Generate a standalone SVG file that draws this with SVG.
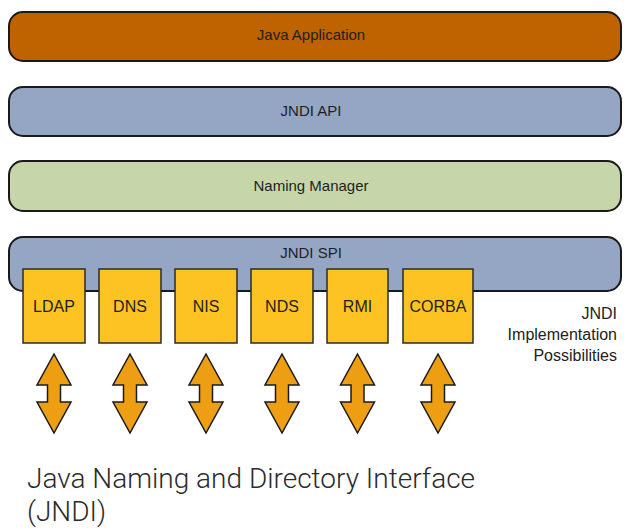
<svg xmlns="http://www.w3.org/2000/svg" xmlns:xlink="http://www.w3.org/1999/xlink" width="624" height="529" viewBox="0 0 624 529">
<style>
.bar{stroke:#1a1a1a;stroke-width:2}
.lbl{font-family:"Liberation Sans",Arial,sans-serif;font-size:15px;fill:#1e1e1e;text-anchor:middle}
.blbl{font-family:"Liberation Sans",Arial,sans-serif;font-size:16px;fill:#1e1e1e;text-anchor:middle}
.box{fill:#FDC322;stroke:#2a2a2a;stroke-width:1.5}
.side{font-family:"Liberation Sans",Arial,sans-serif;font-size:16px;fill:#222;text-anchor:end}
.cap{font-family:Roboto,"Liberation Sans",sans-serif;font-weight:300;font-size:28px;fill:#2b2b2b}
.arr{fill:#EE9E12;stroke:#1a1a1a;stroke-width:1.5;stroke-linejoin:miter}
</style>
<defs>
<path id="dbl" class="arr" d="M0,0 L17,31 L6.5,31 L6.5,48 L17,48 L0,79 L-17,48 L-6.5,48 L-6.5,31 L-17,31 Z"/>
</defs>
<g id="java-application">
<rect class="bar" x="9" y="12" width="612" height="49" rx="14" fill="#BF6200"/>
<text class="lbl" x="311" y="40">Java Application</text>
</g>
<g id="jndi-api">
<rect class="bar" x="9" y="87" width="612" height="49" rx="14" fill="#94A6C4"/>
<text class="lbl" x="311" y="116">JNDI API</text>
</g>
<g id="naming-manager">
<rect class="bar" x="9" y="161" width="612" height="50" rx="14" fill="#C6D6AA"/>
<text class="lbl" x="311" y="191">Naming Manager</text>
</g>
<g id="jndi-spi">
<rect class="bar" x="9" y="237" width="612" height="54" rx="14" fill="#94A6C4"/>
<text class="lbl" x="311" y="258">JNDI SPI</text>
</g>
<g id="ldap"><rect class="box" x="23" y="269" width="62" height="74"/><text class="blbl" x="54" y="312">LDAP</text></g>
<g id="dns"><rect class="box" x="99" y="269" width="62" height="74"/><text class="blbl" x="130" y="312">DNS</text></g>
<g id="nis"><rect class="box" x="175" y="269" width="62" height="74"/><text class="blbl" x="206" y="312">NIS</text></g>
<g id="nds"><rect class="box" x="251" y="269" width="62" height="74"/><text class="blbl" x="282" y="312">NDS</text></g>
<g id="rmi"><rect class="box" x="327" y="269" width="61" height="74"/><text class="blbl" x="357.5" y="312">RMI</text></g>
<g id="corba"><rect class="box" x="403" y="269" width="70" height="74"/><text class="blbl" x="438" y="312">CORBA</text></g>
<g id="impl-label">
<text class="side" x="617" y="319">JNDI</text>
<text class="side" x="617" y="340">Implementation</text>
<text class="side" x="617" y="361">Possibilities</text>
</g>
<g id="connectors">
<use xlink:href="#dbl" x="54" y="354"/>
<use xlink:href="#dbl" x="130" y="354"/>
<use xlink:href="#dbl" x="206" y="354"/>
<use xlink:href="#dbl" x="282" y="354"/>
<use xlink:href="#dbl" x="357.5" y="354"/>
<use xlink:href="#dbl" x="438" y="354"/>
</g>
<g id="caption">
<text class="cap" x="27" y="488">Java Naming and Directory Interface</text>
<text class="cap" x="27" y="521">(JNDI)</text>
</g>
</svg>
